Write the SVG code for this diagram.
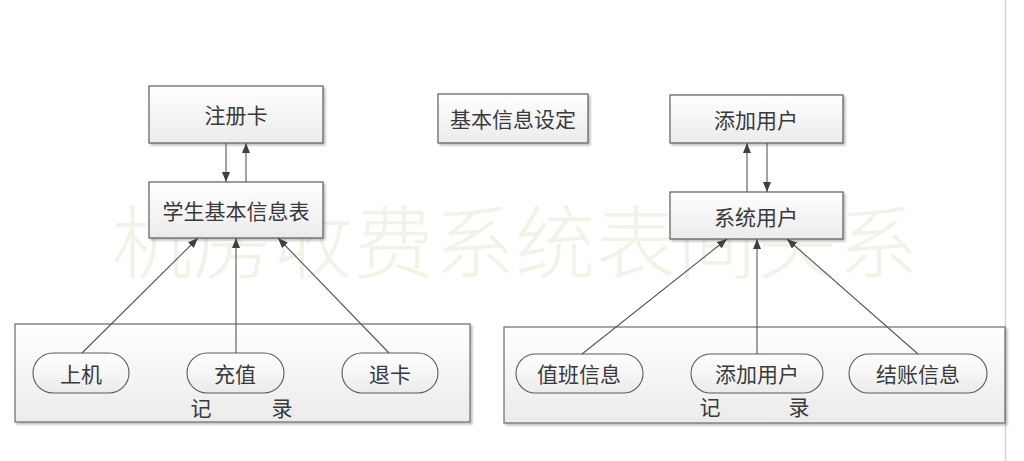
<svg xmlns="http://www.w3.org/2000/svg" width="1024" height="461" viewBox="0 0 1024 461">
<defs>
<linearGradient id="g" x1="0" y1="0" x2="0" y2="1">
<stop offset="0" stop-color="#ffffff"/>
<stop offset="1" stop-color="#ebebeb"/>
</linearGradient>
<filter id="sh" x="-5%" y="-5%" width="115%" height="125%">
<feGaussianBlur in="SourceAlpha" stdDeviation="1.2"/>
<feOffset dx="2" dy="2" result="o"/>
<feComponentTransfer><feFuncA type="linear" slope="0.25"/></feComponentTransfer>
<feMerge><feMergeNode/><feMergeNode in="SourceGraphic"/></feMerge>
</filter>
<marker id="ah" viewBox="0 0 10 8" refX="10" refY="4" markerWidth="10" markerHeight="8" markerUnits="userSpaceOnUse" orient="auto">
<path d="M0,0 L10,4 L0,8 Z" fill="#404040"/>
</marker>
</defs>
<style>
.box{fill:url(#g);stroke:#5a5a5a;stroke-width:1.2;filter:url(#sh)}
.cont{fill:url(#g);stroke:#6a6a6a;stroke-width:1.2;filter:url(#sh)}
.pill{fill:url(#g);stroke:#5a5a5a;stroke-width:1.1}
.t{font-family:"Noto Sans CJK SC","Noto Sans",sans-serif;font-size:21px;fill:#3a3a3a;text-anchor:middle;dominant-baseline:central}
.c{stroke:#555;stroke-width:1.1;fill:none;marker-end:url(#ah)}
.wm{font-family:"Noto Sans CJK SC",sans-serif;font-weight:300;font-size:80px;fill:#f1f3e7}
</style>
<rect width="1024" height="461" fill="#ffffff"/>
<line x1="1005.5" y1="0" x2="1005.5" y2="461" stroke="#d4d4d4" stroke-width="1.5"/>
<text class="wm" x="112" y="272" textLength="806" lengthAdjust="spacing">机房收费系统表间关系</text>

<g id="left-container">
<rect class="cont" x="15" y="324" width="455" height="98"/>
<text class="t" x="201" y="407">记</text>
<text class="t" x="282" y="407">录</text>
</g>
<g id="right-container">
<rect class="cont" x="504" y="327" width="501" height="96"/>
<text class="t" x="710" y="406">记</text>
<text class="t" x="799" y="406">录</text>
</g>

<g id="zhuceka"><rect class="box" x="149" y="86" width="174" height="57"/><text class="t" x="236" y="114">注册卡</text></g>
<g id="xuesheng"><rect class="box" x="149" y="182" width="174" height="56"/><text class="t" x="236" y="210">学生基本信息表</text></g>
<g id="jiben"><rect class="box" x="438" y="94" width="150" height="49"/><text class="t" x="513" y="118">基本信息设定</text></g>
<g id="tianjia"><rect class="box" x="670" y="95" width="173" height="48"/><text class="t" x="756" y="119">添加用户</text></g>
<g id="xitong"><rect class="box" x="670" y="192" width="173" height="47"/><text class="t" x="756" y="216">系统用户</text></g>

<g id="shangji"><rect class="pill" x="33" y="353" width="96" height="40" rx="20"/><text class="t" x="81" y="373">上机</text></g>
<g id="chongzhi"><rect class="pill" x="187" y="353" width="97" height="40" rx="20"/><text class="t" x="235" y="373">充值</text></g>
<g id="tuika"><rect class="pill" x="342" y="353" width="96" height="40" rx="20"/><text class="t" x="390" y="373">退卡</text></g>
<g id="zhiban"><rect class="pill" x="516" y="354" width="127" height="39" rx="19.5"/><text class="t" x="579" y="373">值班信息</text></g>
<g id="tianjia2"><rect class="pill" x="691" y="354" width="132" height="39" rx="19.5"/><text class="t" x="757" y="373">添加用户</text></g>
<g id="jiezhang"><rect class="pill" x="849" y="354" width="138" height="39" rx="19.5"/><text class="t" x="918" y="373">结账信息</text></g>

<g id="connectors">
<line class="c" x1="226" y1="143" x2="226" y2="182"/>
<line class="c" x1="246" y1="182" x2="246" y2="143"/>
<line class="c" x1="747" y1="192" x2="747" y2="143"/>
<line class="c" x1="767" y1="143" x2="767" y2="192"/>
<line class="c" x1="82" y1="353" x2="198" y2="238"/>
<line class="c" x1="236" y1="353" x2="236" y2="238"/>
<line class="c" x1="389" y1="353" x2="278" y2="238"/>
<line class="c" x1="582" y1="354" x2="727" y2="239"/>
<line class="c" x1="757" y1="354" x2="757" y2="239"/>
<line class="c" x1="918" y1="354" x2="787" y2="239"/>
</g>
</svg>
